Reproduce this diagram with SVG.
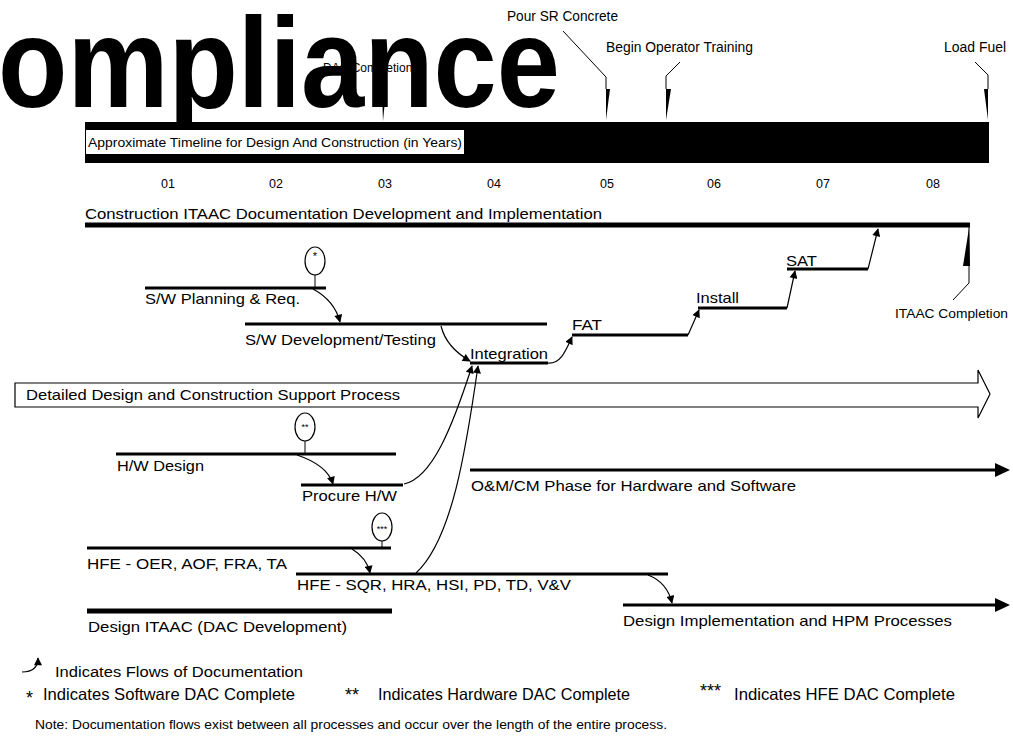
<svg xmlns="http://www.w3.org/2000/svg" width="1013" height="737" viewBox="0 0 1013 737">
<style>
.t{font-family:"Liberation Sans",Arial,Helvetica,sans-serif;fill:#000}
.bar{stroke:#000;stroke-width:3;fill:none}
.thick{stroke:#000;stroke-width:5;fill:none}
.flow{stroke:#000;stroke-width:1.2;fill:none;marker-end:url(#ah)}
.co{stroke:#000;stroke-width:1;fill:none}
.oval{stroke:#000;stroke-width:1.2;fill:#fff}
</style>
<defs>
<marker id="ah" viewBox="0 0 10 10" refX="9" refY="5" markerWidth="10" markerHeight="8" markerUnits="userSpaceOnUse" orient="auto"><path d="M0,0 L10,5 L0,10 z" fill="#000"/></marker>
</defs>
<rect width="1013" height="737" fill="#fff"/>

<g id="dac-completion">
<text class="t" x="323" y="72" font-size="12">DAC Completion</text>
<path class="co" d="M383,78 L383,90"/>
<polygon points="382,90 386,90 383,121" fill="#000"/>
</g>

<g id="title">
<text class="t" x="-2" y="107" font-size="128" font-weight="bold" textLength="562" lengthAdjust="spacingAndGlyphs">ompliance</text>
</g>

<g id="timeline">
<rect x="85" y="122" width="904" height="41" fill="#000"/>
<rect x="86" y="130" width="378" height="24" fill="#fff"/>
<text class="t" x="88" y="147" font-size="13" textLength="374" lengthAdjust="spacingAndGlyphs">Approximate Timeline for Design And Construction (in Years)</text>
</g>

<g id="years" class="t" font-size="12.5" text-anchor="middle">
<text x="168" y="188">01</text>
<text x="276" y="188">02</text>
<text x="385" y="188">03</text>
<text x="494" y="188">04</text>
<text x="607" y="188">05</text>
<text x="714" y="188">06</text>
<text x="823" y="188">07</text>
<text x="933" y="188">08</text>
</g>

<g id="pour-sr">
<text class="t" x="507" y="21" font-size="14" textLength="111" lengthAdjust="spacingAndGlyphs">Pour SR Concrete</text>
<path class="co" d="M563,31 L606,77 L606,89"/>
<polygon points="606,89 610,89 606,120" fill="#000"/>
</g>

<g id="operator-training">
<text class="t" x="606" y="52" font-size="14" textLength="147" lengthAdjust="spacingAndGlyphs">Begin Operator Training</text>
<path class="co" d="M680,62 L666,76 L666,89"/>
<polygon points="666,89 671,89 666,120" fill="#000"/>
</g>

<g id="load-fuel">
<text class="t" x="944" y="52" font-size="14" textLength="62" lengthAdjust="spacingAndGlyphs">Load Fuel</text>
<path class="co" d="M975,62 L988,75 L988,89"/>
<polygon points="984,89 988,89 988,120" fill="#000"/>
</g>

<g id="construction-itaac">
<text class="t" x="85" y="219" font-size="15" textLength="517" lengthAdjust="spacingAndGlyphs">Construction ITAAC Documentation Development and Implementation</text>
<line class="thick" x1="85" y1="225" x2="970" y2="225"/>
</g>

<g id="itaac-completion">
<path class="co" d="M969,227 L969,283 L953,300"/>
<polygon points="969,228 970,266 963,266" fill="#000"/>
<text class="t" x="895" y="318" font-size="13" textLength="113" lengthAdjust="spacingAndGlyphs">ITAAC Completion</text>
</g>

<g id="sw-dac">
<ellipse class="oval" cx="315" cy="261" rx="10" ry="14"/>
<text class="t" x="315" y="260" font-size="11" text-anchor="middle">*</text>
<line class="co" x1="315" y1="275" x2="315" y2="288"/>
</g>

<g id="sw-planning">
<line class="bar" x1="145" y1="288" x2="326" y2="288"/>
<text class="t" x="145" y="304" font-size="15" textLength="155" lengthAdjust="spacingAndGlyphs">S/W Planning &amp; Req.</text>
</g>

<g id="sw-development">
<line class="bar" x1="245" y1="324" x2="547" y2="324"/>
<text class="t" x="245" y="345" font-size="15" textLength="191" lengthAdjust="spacingAndGlyphs">S/W Development/Testing</text>
</g>

<g id="integration">
<line class="bar" x1="470" y1="363" x2="548" y2="363"/>
<text class="t" x="470" y="359" font-size="15" textLength="78" lengthAdjust="spacingAndGlyphs">Integration</text>
</g>

<g id="fat">
<line class="bar" x1="572" y1="335" x2="688" y2="335"/>
<text class="t" x="572" y="330" font-size="15" textLength="30" lengthAdjust="spacingAndGlyphs">FAT</text>
</g>

<g id="install">
<line class="bar" x1="698" y1="308" x2="787" y2="308"/>
<text class="t" x="696" y="303" font-size="15" textLength="43" lengthAdjust="spacingAndGlyphs">Install</text>
</g>

<g id="sat">
<line class="bar" x1="787" y1="269" x2="868" y2="269"/>
<text class="t" x="786" y="266" font-size="15" textLength="31" lengthAdjust="spacingAndGlyphs">SAT</text>
</g>

<g id="support-process">
<polygon points="15,383 978,383 978,370 990,394 978,418 978,407 15,407" fill="#fff" stroke="#000" stroke-width="1.2"/>
<text class="t" x="26" y="400" font-size="15" textLength="374" lengthAdjust="spacingAndGlyphs">Detailed Design and Construction Support Process</text>
</g>

<g id="hw-dac">
<ellipse class="oval" cx="305" cy="427" rx="10" ry="14"/>
<text class="t" x="305" y="430" font-size="9" text-anchor="middle">**</text>
<line class="co" x1="305" y1="441" x2="305" y2="454"/>
</g>

<g id="hw-design">
<line class="bar" x1="116" y1="454" x2="396" y2="454"/>
<text class="t" x="117" y="471" font-size="15" textLength="87" lengthAdjust="spacingAndGlyphs">H/W Design</text>
</g>

<g id="procure-hw">
<line class="bar" x1="301" y1="485" x2="403" y2="485"/>
<text class="t" x="302" y="501" font-size="15" textLength="95" lengthAdjust="spacingAndGlyphs">Procure H/W</text>
</g>

<g id="om-cm">
<line class="bar" x1="470" y1="470" x2="998" y2="470"/>
<polygon points="995,463 1010,470 995,477" fill="#000"/>
<text class="t" x="471" y="491" font-size="15" textLength="325" lengthAdjust="spacingAndGlyphs">O&amp;M/CM Phase for Hardware and Software</text>
</g>

<g id="hfe-dac">
<ellipse class="oval" cx="382" cy="527" rx="10" ry="14"/>
<text class="t" x="382" y="532" font-size="9" text-anchor="middle">***</text>
<line class="co" x1="382" y1="541" x2="382" y2="548"/>
</g>

<g id="hfe-oer">
<line class="bar" x1="87" y1="548" x2="391" y2="548"/>
<text class="t" x="87" y="569" font-size="15" textLength="200" lengthAdjust="spacingAndGlyphs">HFE - OER, AOF, FRA, TA</text>
</g>

<g id="hfe-sqr">
<line class="bar" x1="296" y1="574" x2="668" y2="574"/>
<text class="t" x="297" y="590" font-size="15" textLength="274" lengthAdjust="spacingAndGlyphs">HFE - SQR, HRA, HSI, PD, TD, V&amp;V</text>
</g>

<g id="design-implementation">
<line class="bar" x1="623" y1="605" x2="998" y2="605"/>
<polygon points="995,598 1010,605 995,612" fill="#000"/>
<text class="t" x="623" y="626" font-size="15" textLength="329" lengthAdjust="spacingAndGlyphs">Design Implementation and HPM Processes</text>
</g>

<g id="design-itaac">
<line class="thick" x1="87" y1="611" x2="392" y2="611"/>
<text class="t" x="88" y="632" font-size="15" textLength="259" lengthAdjust="spacingAndGlyphs">Design ITAAC (DAC Development)</text>
</g>

<g id="connectors">
<path class="flow" d="M313,289 C326,296 336,306 340,322"/>
<path class="flow" d="M441,326 C445,342 456,353 470,361"/>
<path class="flow" d="M548,363 C561,364 566,350 572,337"/>
<path class="flow" d="M688,335 L699,310"/>
<path class="flow" d="M787,308 L795,271"/>
<path class="flow" d="M868,269 L878,229"/>
<path class="flow" d="M297,455 C315,461 329,471 333,484"/>
<path class="flow" d="M404,484 C432,478 452,428 472,366"/>
<path class="flow" d="M416,573 C452,540 466,450 478,366"/>
<path class="flow" d="M352,549 C362,555 368,563 370,573"/>
<path class="flow" d="M648,575 C661,580 669,590 672,603"/>
</g>

<g id="legend">
<path class="flow" d="M22,672 C32,672 38,668 38,658"/>
<text class="t" x="55" y="677" font-size="15.5" textLength="248" lengthAdjust="spacingAndGlyphs">Indicates Flows of Documentation</text>
<text class="t" x="26" y="704" font-size="18">*</text>
<text class="t" x="43" y="700" font-size="16.5" textLength="252" lengthAdjust="spacingAndGlyphs">Indicates Software DAC Complete</text>
<text class="t" x="345" y="701" font-size="18">**</text>
<text class="t" x="378" y="700" font-size="16.5" textLength="252" lengthAdjust="spacingAndGlyphs">Indicates Hardware DAC Complete</text>
<text class="t" x="700" y="697" font-size="18">***</text>
<text class="t" x="734" y="700" font-size="16.5" textLength="221" lengthAdjust="spacingAndGlyphs">Indicates HFE DAC Complete</text>
<text class="t" x="35" y="729" font-size="13" textLength="632" lengthAdjust="spacingAndGlyphs">Note: Documentation flows exist between all processes and occur over the length of the entire process.</text>
</g>
</svg>
